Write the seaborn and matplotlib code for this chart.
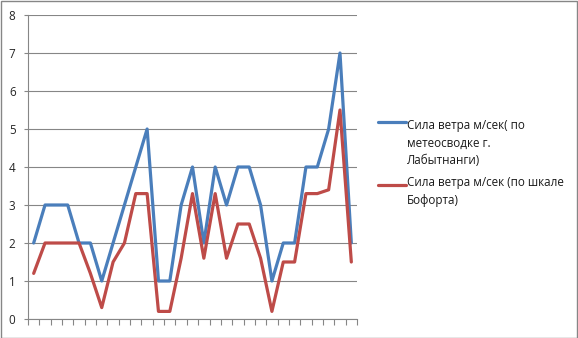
import matplotlib
matplotlib.use("Agg")
import matplotlib.pyplot as plt
import seaborn as sns
import numpy as np
import pandas as pd
from matplotlib.patches import Rectangle
from matplotlib.legend_handler import HandlerLine2D

days = list(range(1, 30))
meteo = [2, 3, 3, 3, 2, 2, 1, 2, 3, 4, 5, 1, 1, 3, 4, 2, 4, 3, 4, 4, 3, 1, 2, 2, 4, 4, 5, 7, 2]
beaufort = [1.2, 2, 2, 2, 2, 1.2, 0.3, 1.5, 2, 3.3, 3.3, 0.2, 0.2, 1.6, 3.3, 1.6, 3.3, 1.6, 2.5, 2.5,
            1.6, 0.2, 1.5, 1.5, 3.3, 3.3, 3.4, 5.5, 1.5]
label_meteo = "Сила ветра м/сек( по\nметеосводке г.\nЛабытнанги)"
label_beaufort = "Сила ветра м/сек (по шкале\nБофорта)"
y_ticks = [0, 1, 2, 3, 4, 5, 6, 7, 8]

sns.set_theme(style="white")
plt.rcParams['font.family'] = ['Open Sans', 'DejaVu Sans']

df = pd.DataFrame({"idx": np.arange(len(days)), label_meteo: meteo, label_beaufort: beaufort})
long = df.melt(id_vars="idx", var_name="series", value_name="value")

fig = plt.figure(figsize=(5.78, 3.38), dpi=100)
ax = fig.add_axes([28/578, 19/338, 329/578, 304/338])

palette = {label_meteo: "#4A7EBB", label_beaufort: "#BE4B48"}
sns.lineplot(data=long, x="idx", y="value", hue="series", palette=palette,
             linewidth=2.3, ax=ax, legend=True)

ax.set_xlim(-0.5, len(days) - 0.5)
ax.set_ylim(0, 8)
ax.set_yticks(y_ticks)
ax.set_yticklabels([str(t) for t in y_ticks], fontsize=8.4, color="#262626")
ax.set_xticks(np.arange(-0.5, len(days), 1.0))
ax.set_xticklabels([])
ax.set_xlabel("")
ax.set_ylabel("")
ax.grid(axis="y", color="#868686", linewidth=0.8)
ax.set_axisbelow(True)
for s in ["top", "right"]:
    ax.spines[s].set_visible(False)
for s in ["left", "bottom"]:
    ax.spines[s].set_color("#868686")
    ax.spines[s].set_linewidth(0.8)
ax.tick_params(axis="x", direction="out", length=4, width=0.8, color="#868686", bottom=True)
ax.tick_params(axis="y", direction="out", length=3, width=0.8, color="#868686", left=True, pad=6)


class TopLineHandler(HandlerLine2D):
    def __init__(self, dy, **kw):
        super().__init__(**kw)
        self.dy = dy

    def create_artists(self, legend, orig_handle, xdescent, ydescent, width, height, fontsize, trans):
        arts = super().create_artists(legend, orig_handle, xdescent, ydescent, width, height, fontsize, trans)
        for a in arts:
            a.set_ydata(np.asarray(a.get_ydata()) + self.dy)
        return arts


handles, labels = ax.get_legend_handles_labels()
hmap = {handles[0]: TopLineHandler(dy=16.5), handles[1]: TopLineHandler(dy=5.5)}
leg = ax.legend(handles, labels, loc="upper left", bbox_to_anchor=(367/578, 229/338),
                bbox_transform=fig.transFigure, frameon=False, fontsize=8.4,
                handlelength=2.4, handletextpad=0.1, labelspacing=0.75, handler_map=hmap)
for t in leg.get_texts():
    t.set_linespacing(1.45)
    t.set_color("#1a1a1a")
for line in leg.get_lines():
    line.set_linewidth(2.3)

fig.patches.append(Rectangle((0.001, 0.001), 0.997, 0.996, transform=fig.transFigure,
                             fill=False, edgecolor="#868686", linewidth=1.0))

fig.savefig("out.png", dpi=100)
